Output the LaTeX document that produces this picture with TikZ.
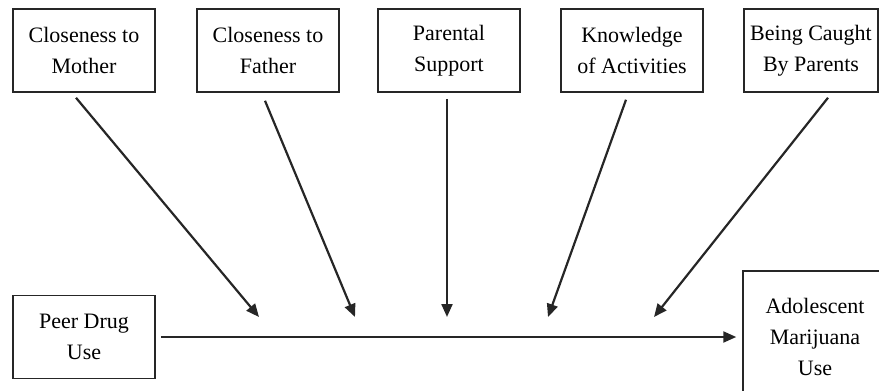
\documentclass[tikz,border=0pt]{standalone}
\usepackage{fontspec}
\setmainfont{Liberation Serif}
\usetikzlibrary{arrows.meta}
\tikzset{
  factor/.style={draw=black!85, line width=1.5pt, minimum width=142pt, minimum height=83pt,
    align=center, inner sep=0pt, font=\fontsize{22}{31}\selectfont},
  path/.style={draw=black!85, line width=2.2pt, -{Triangle[length=13pt,width=11pt]}}
}
\begin{document}
\begin{tikzpicture}[x=1pt,y=-1pt]
  \useasboundingbox (0,0) rectangle (879,391);

  \node[factor] (mother) at (84,50.5) {Closeness to\\Mother};
  \node[factor] (father) at (268,50.5) {Closeness to\\Father};
  \node[factor] (support) at (449,50.5) {Parental\\Support};
  \node[factor] (know) at (632,50.5) {Knowledge\\of Activities};
  \node[factor, minimum width=134pt] (caught) at (811,50.5) {Being Caught\\By Parents};

  \node[factor] (peer) at (84,337) {Peer Drug\\Use};
  \node[factor, minimum width=144pt, minimum height=132pt] (use) at (815,337) {Adolescent\\Marijuana\\Use};

 % moderators point at the main path
  \coordinate (m1) at (259,317);
  \coordinate (m2) at (355,317);
  \coordinate (m3) at (447,317);
  \coordinate (m4) at (548,317);
  \coordinate (m5) at (654,317);

  \draw[path] ([xshift=-8pt,yshift=-5pt]mother.south) -- (m1);
  \draw[path] ([xshift=-3pt,yshift=-8pt]father.south) -- (m2);
  \draw[path] ([xshift=-2pt,yshift=-6pt]support.south) -- (m3);
  \draw[path] ([xshift=-6pt,yshift=-7pt]know.south) -- (m4);
  \draw[path] ([xshift=17pt,yshift=-5pt]caught.south) -- (m5);

  \draw[path, shorten <=5pt, shorten >=6pt] (peer) -- (use);
\end{tikzpicture}
\end{document}
